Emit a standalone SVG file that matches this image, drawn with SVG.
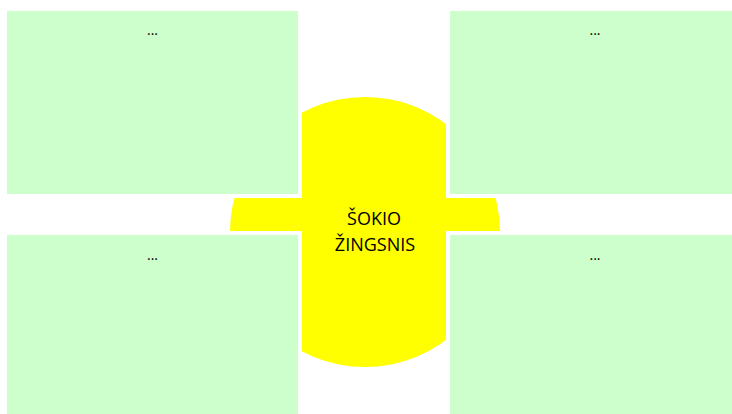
<svg xmlns="http://www.w3.org/2000/svg" width="732" height="414" viewBox="0 0 732 414">
<style>
.gap{fill:#FFFFFF}
.box{fill:#CCFFCC}
.dots{font-family:"Open Sans","Liberation Sans",sans-serif;font-size:14px;fill:#000;text-anchor:middle}
.center{font-family:"Open Sans","Liberation Sans",sans-serif;font-size:18px;fill:#000;text-anchor:middle}
</style>
<rect x="0" y="0" width="732" height="414" fill="#FFFFFF"/>
<g id="center-node">
<circle cx="365" cy="232" r="135" fill="#FFFF00"/>
</g>
<g id="node-top-left">
<rect class="gap" x="3" y="7" width="299" height="191"/>
<rect class="box" x="7" y="11" width="291" height="183"/>
<text class="dots" x="152.5" y="35">...</text>
</g>
<g id="node-top-right">
<rect class="gap" x="446" y="7" width="298" height="191"/>
<rect class="box" x="450" y="11" width="290" height="183"/>
<text class="dots" x="595" y="35">...</text>
</g>
<g id="node-bottom-left">
<rect class="gap" x="3" y="231" width="299" height="191"/>
<rect class="box" x="7" y="235" width="291" height="183"/>
<text class="dots" x="152.5" y="260">...</text>
</g>
<g id="node-bottom-right">
<rect class="gap" x="446" y="231" width="298" height="191"/>
<rect class="box" x="450" y="235" width="290" height="183"/>
<text class="dots" x="595" y="260">...</text>
</g>
<g id="center-label">
<text class="center" x="374" y="225">ŠOKIO</text>
<text class="center" x="375" y="251">ŽINGSNIS</text>
</g>
<g id="connectors"></g>
</svg>
